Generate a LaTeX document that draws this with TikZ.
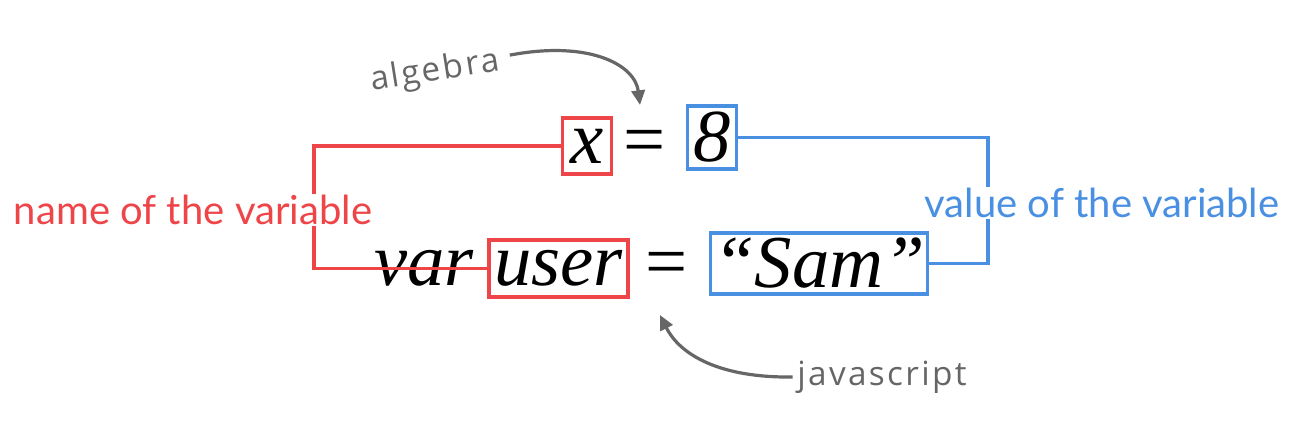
\documentclass[tikz,border=0pt]{standalone}
\usepackage{fontspec}
\setmainfont{Liberation Serif}
\newfontfamily\labelfont{Lato}
\newfontfamily\handfont[LetterSpace=7]{Open Sans}
\usetikzlibrary{arrows.meta}
\definecolor{namered}{HTML}{EE4549}
\definecolor{valueblue}{HTML}{4A90E2}
\definecolor{notegray}{HTML}{666666}
\tikzset{
  eqtext/.style={font=\fontsize{56}{60}\selectfont\itshape, inner sep=2pt},
  eqsign/.style={font=\fontsize{56}{60}\selectfont, inner sep=0pt, anchor=base},
  namebox/.style={eqtext, draw=namered, line width=2.4pt},
  valuebox/.style={eqtext, draw=valueblue, line width=2.4pt},
  namewire/.style={draw=namered, line width=2.4pt},
  valuewire/.style={draw=valueblue, line width=2.4pt},
  tag/.style={font=\fontsize{30}{32}\selectfont\labelfont, fill=white, inner sep=1pt},
  note/.style={font=\fontsize{25}{27}\selectfont\handfont, text=notegray},
  pointer/.style={-{Triangle[length=11pt,width=10pt]}, draw=notegray, line width=2.4pt}
}
\begin{document}
\begin{tikzpicture}[x=0.75pt,y=-0.75pt]
  \useasboundingbox (0,0) rectangle (1293,427);

  % algebra
  \node[namebox, minimum width=36.75pt, minimum height=42pt] (xvar) at (587,146) {x};
  \node[eqsign] (eqtop) at (645,165) {=};
  \node[valuebox, minimum width=36.75pt, minimum height=47.25pt] (eight) at (712,137.5) {8};

  % javascript
  \node[namebox, minimum width=104.25pt, minimum height=42.75pt] (uservar) at (558.5,268.5) {user};
  \node[eqtext, anchor=base east] (varkw) at ([xshift=-8pt]uservar.base west) {var};
  \node[eqsign] (eqbot) at (667,287) {=};
  \node[valuebox, minimum width=154.5pt, minimum height=45.75pt] (samval) at (819,263.5) {``Sam''};

  \coordinate (namebend) at (314,0);
  \coordinate (valuebend) at (988,0);
  \draw[namewire] (xvar.west) -- (xvar.west -| namebend) |- (uservar.west);
  \draw[valuewire] (eight.east) -- (eight.east -| valuebend) |- (samval.east);

  \node[tag, text=namered] (namelbl) at (193,210) {name of the variable};
  \node[tag, text=valueblue] (valuelbl) at (1102,203) {value of the variable};

  % notes
  \node[note, rotate=9] (algnote) at (435,72) {algebra};
  \node[note] (jsnote) at (882,377) {javascript};
  \coordinate (algtip) at (640,105);
  \coordinate (jstip) at (660,315);
  \draw[pointer] ([shift={(6,-6)}]algnote.east) .. controls (590,40) and (635,65) .. (algtip);
  \draw[pointer] (jsnote.west) .. controls (720,378) and (680,355) .. (jstip);
\end{tikzpicture}
\end{document}
